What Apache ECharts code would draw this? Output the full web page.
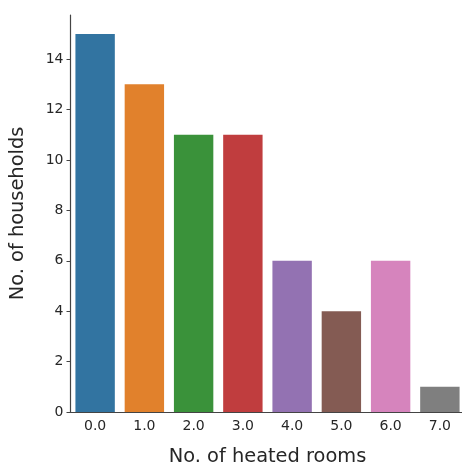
<!DOCTYPE html>
<html><head><meta charset="utf-8">
<script src="https://cdn.jsdelivr.net/npm/echarts@6/dist/echarts.min.js"></script>
<style>html,body{margin:0;padding:0;background:#fff}#c{width:462px;height:466px}</style>
</head><body><div id="c"></div>
<script>
const categories = ['0.0','1.0','2.0','3.0','4.0','5.0','6.0','7.0'];
const households = [15, 13, 11, 11, 6, 4, 6, 1];
const barColors = ['#3274a1','#e1812c','#3a923a','#c03d3e','#9372b2','#845b53','#d684bd','#7f7f7f'];
const yTicks = [0, 2, 4, 6, 8, 10, 12, 14];

const chart = echarts.init(document.getElementById('c'), null, {renderer:'canvas'});
const font = 'DejaVu Sans';
chart.setOption({
  animation: false,
  grid: {left: 70.5, right: -2.5, top: 15, bottom: 54, containLabel: false, outerBoundsMode: 'none'},
  xAxis: {
    type: 'category', data: categories, boundaryGap: true,
    name: 'No. of heated rooms', nameLocation: 'middle', nameGap: 35,
    nameTextStyle: {fontFamily: font, fontSize: 19.4, color: '#262626'},
    axisLine: {lineStyle: {color: '#444', width: 1.2}},
    axisTick: {alignWithLabel: true, length: 4, lineStyle: {color: '#444'}},
    axisLabel: {fontFamily: font, fontSize: 14, color: '#262626', margin: 7}
  },
  yAxis: {
    type: 'value', min: 0, max: 15.75,
    name: 'No. of households', nameLocation: 'middle', nameGap: 43,
    nameTextStyle: {fontFamily: font, fontSize: 19.4, color: '#262626'},
    axisLine: {show: true, lineStyle: {color: '#444', width: 1.2}},
    axisTick: {show: true, length: 4, lineStyle: {color: '#444'}, customValues: yTicks},
    splitLine: {show: false},
    axisLabel: {fontFamily: font, fontSize: 14, color: '#262626', margin: 7, customValues: yTicks}
  },
  series: [{
    type: 'bar', barWidth: '80%',
    data: households.map((v, i) => ({value: v, itemStyle: {color: barColors[i]}}))
  }]
});
</script></body></html>
